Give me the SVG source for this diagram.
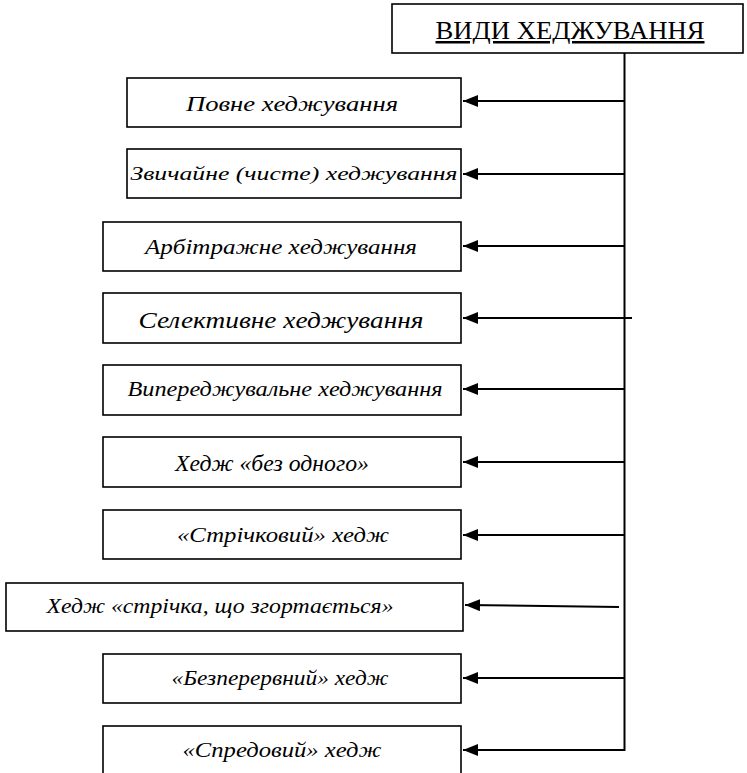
<svg xmlns="http://www.w3.org/2000/svg" width="747" height="773" viewBox="0 0 747 773">
<defs>
<marker id="ah" markerWidth="16" markerHeight="12" refX="15" refY="6" orient="auto" markerUnits="userSpaceOnUse">
<path d="M0,0 L15,6 L0,12 z" fill="#000"/>
</marker>
<style>
.box{fill:#fff;stroke:#000;stroke-width:1.6}
.t{font-family:"Liberation Serif","Times New Roman",serif;font-style:italic;fill:#000;text-anchor:middle}
.title{font-family:"Liberation Serif","Times New Roman",serif;fill:#000;text-anchor:middle;text-decoration:underline}
.c{stroke:#000;stroke-width:2;fill:none}
.a{stroke:#000;stroke-width:2;fill:none;marker-end:url(#ah)}
</style>
</defs>
<rect width="747" height="773" fill="#fff"/>
<g id="title">
<rect class="box" x="392" y="4" width="351" height="49"/>
<text class="title" x="570" y="39" font-size="25" textLength="269" lengthAdjust="spacingAndGlyphs">ВИДИ ХЕДЖУВАННЯ</text>
</g>
<g id="n1">
<rect class="box" x="127" y="78" width="334" height="49"/>
<text class="t" x="292" y="111" font-size="21" textLength="212" lengthAdjust="spacingAndGlyphs">Повне хеджування</text>
</g>
<g id="n2">
<rect class="box" x="127" y="149" width="334" height="49"/>
<text class="t" x="294" y="180" font-size="19.5" textLength="327" lengthAdjust="spacingAndGlyphs">Звичайне (чисте) хеджування</text>
</g>
<g id="n3">
<rect class="box" x="103" y="222" width="358" height="49"/>
<text class="t" x="281" y="254" font-size="20" textLength="272" lengthAdjust="spacingAndGlyphs">Арбітражне хеджування</text>
</g>
<g id="n4">
<rect class="box" x="103" y="293" width="358" height="50"/>
<text class="t" x="281" y="328" font-size="23" textLength="285" lengthAdjust="spacingAndGlyphs">Селективне хеджування</text>
</g>
<g id="n5">
<rect class="box" x="103" y="365" width="358" height="50"/>
<text class="t" x="285" y="396" font-size="20" textLength="315" lengthAdjust="spacingAndGlyphs">Випереджувальне хеджування</text>
</g>
<g id="n6">
<rect class="box" x="103" y="437" width="358" height="50"/>
<text class="t" x="272" y="471" font-size="24" textLength="194" lengthAdjust="spacingAndGlyphs">Хедж «без одного»</text>
</g>
<g id="n7">
<rect class="box" x="103" y="510" width="358" height="49"/>
<text class="t" x="283" y="542" font-size="20" textLength="212" lengthAdjust="spacingAndGlyphs">«Стрічковий» хедж</text>
</g>
<g id="n8">
<rect class="box" x="6" y="583" width="457" height="48"/>
<text class="t" x="220" y="613" font-size="20" textLength="347" lengthAdjust="spacingAndGlyphs">Хедж «стрічка, що згортається»</text>
</g>
<g id="n9">
<rect class="box" x="103" y="654" width="358" height="49"/>
<text class="t" x="280" y="685" font-size="20" textLength="217" lengthAdjust="spacingAndGlyphs">«Безперервний» хедж</text>
</g>
<g id="n10">
<rect class="box" x="103" y="726" width="358" height="52"/>
<text class="t" x="282" y="757" font-size="20" textLength="199" lengthAdjust="spacingAndGlyphs">«Спредовий» хедж</text>
</g>
<g id="connectors">
<line class="c" x1="624.5" y1="53" x2="624.5" y2="751"/>
<line class="a" x1="625" y1="101" x2="463" y2="101"/>
<line class="a" x1="625" y1="174" x2="463" y2="174"/>
<line class="a" x1="625" y1="246" x2="463" y2="246"/>
<line class="a" x1="632" y1="318" x2="463" y2="318"/>
<line class="a" x1="625" y1="389" x2="463" y2="389"/>
<line class="a" x1="625" y1="462" x2="463" y2="462"/>
<line class="a" x1="625" y1="535" x2="463" y2="535"/>
<line class="a" x1="619" y1="607" x2="465" y2="605"/>
<line class="a" x1="625" y1="678" x2="463" y2="678"/>
<line class="a" x1="625" y1="750" x2="463" y2="750"/>
</g>
</svg>
